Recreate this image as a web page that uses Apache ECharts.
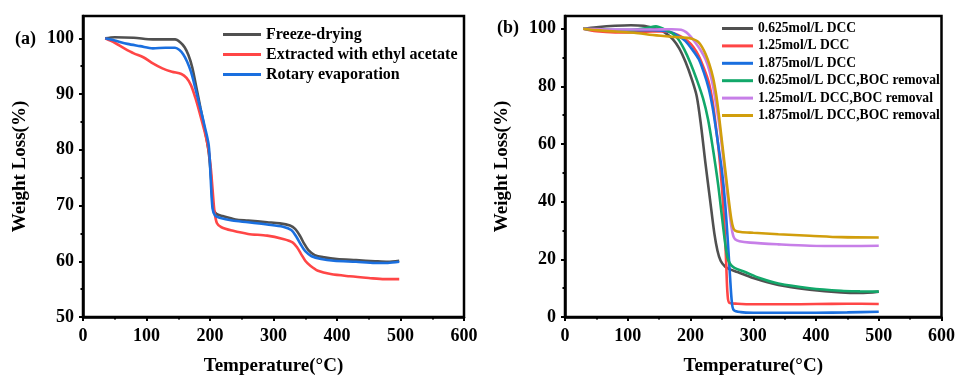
<!DOCTYPE html>
<html>
<head>
<meta charset="utf-8">
<script src="https://cdn.jsdelivr.net/npm/echarts@6/dist/echarts.min.js"></script>
<style>html,body{margin:0;padding:0;background:#fff}#c{width:958px;height:381px}</style>
</head>
<body>
<div id="c"></div>
<script>
// ---------- ticks ----------
const yTicksA = [50, 60, 70, 80, 90, 100];
const yTicksB = [0, 20, 40, 60, 80, 100];

// ---------- Panel (a) ----------
const namesA = ['Freeze-drying', 'Extracted with ethyl acetate', 'Rotary evaporation'];
const fdT = [35, 50, 80, 110, 130, 145, 153, 160, 166, 172, 178, 185, 192, 198, 202, 205, 210, 220, 240, 260, 290, 310, 326, 334, 342, 348, 355, 365, 380, 400, 430, 460, 480, 498];
const fdW = [100, 100.2, 100.1, 99.8, 99.8, 99.8, 99.3, 98.4, 97, 94.8, 91.5, 87.5, 83.5, 79.5, 74.5, 69.5, 68.5, 68.1, 67.5, 67.3, 67, 66.8, 66.4, 65.8, 64.5, 63.2, 62, 61.1, 60.7, 60.4, 60.2, 60.0, 59.9, 60.1];
const eaT = [35, 50, 65, 80, 95, 110, 125, 140, 155, 163, 170, 177, 184, 191, 197, 201, 204, 207, 211, 218, 235, 260, 290, 315, 330, 337, 344, 350, 358, 370, 390, 420, 450, 475, 498];
const eaW = [100, 99.2, 98.2, 97.3, 96.6, 95.5, 94.6, 94.0, 93.6, 92.9, 91.6, 89.3, 86.5, 83.5, 80.5, 77, 73, 69, 66.8, 66.1, 65.5, 64.9, 64.6, 64, 63.4, 62.5, 61.2, 60.1, 59.2, 58.3, 57.7, 57.3, 57.0, 56.8, 56.8];
const reT = [35, 50, 70, 90, 110, 130, 145, 152, 158, 164, 170, 177, 184, 191, 198, 201, 204, 208, 215, 235, 260, 290, 315, 328, 336, 343, 350, 360, 375, 395, 430, 460, 480, 498];
const reW = [100, 99.6, 99, 98.6, 98.2, 98.3, 98.3, 97.9, 97.1, 95.8, 94, 91, 87.8, 84.5, 80.8, 75, 69.5, 68.2, 67.8, 67.3, 67, 66.6, 66.2, 65.6, 64.4, 63, 61.8, 60.9, 60.4, 60.1, 59.9, 59.7, 59.7, 59.9];

// ---------- Panel (b) ----------
const namesB = ['0.625mol/L DCC', '1.25mol/L DCC', '1.875mol/L DCC', '0.625mol/L DCC,BOC removal', '1.25mol/L DCC,BOC removal', '1.875mol/L DCC,BOC removal'];
const d1T = [29, 50, 80, 105, 125, 140, 152, 162, 172, 182, 192, 202, 210, 217, 224, 231, 238, 243, 248, 255, 262, 275, 300, 340, 390, 440, 470, 500];
const d1W = [100, 100.5, 101, 101.2, 101, 100.3, 99.5, 98.2, 96.3, 93.2, 88.5, 82.5, 76.5, 66, 53, 41, 29, 23, 19.5, 17.5, 16.6, 15.6, 13.5, 11.1, 9.5, 8.5, 8.3, 8.8];
const d2T = [29, 50, 80, 110, 140, 160, 180, 195, 205, 213, 221, 229, 235, 240, 245, 249, 252, 255, 257, 259, 262, 275, 300, 350, 400, 450, 500];
const d2W = [100, 99.1, 98.7, 98.8, 99.0, 99.0, 97.8, 95.8, 93.5, 90.6, 86.5, 81.5, 75, 67, 57.7, 48, 39, 28, 18, 8, 4.9, 4.6, 4.4, 4.4, 4.5, 4.6, 4.5];
const d3T = [29, 60, 100, 140, 160, 172, 182, 192, 202, 213, 221, 229, 235, 240, 245, 250, 255, 259, 263, 266, 269, 280, 300, 350, 400, 450, 500];
const d3W = [100, 99.6, 99.5, 99.5, 99.2, 98.5, 97.3, 95.7, 93, 89.5, 85, 79.3, 73, 66, 58.5, 50.9, 40, 28, 14, 5, 2.4, 1.7, 1.5, 1.5, 1.5, 1.6, 1.8];
const b1T = [29, 60, 100, 130, 145, 160, 170, 180, 190, 200, 210, 220, 228, 236, 244, 250, 255, 259, 263, 270, 285, 310, 340, 390, 440, 470, 500];
const b1W = [100, 99.6, 99.5, 100.2, 100.8, 99.6, 98.5, 96.5, 92.8, 88, 82.3, 75.8, 68.5, 58, 46, 35, 26, 20.5, 18.5, 17, 15.8, 13.5, 11.6, 10, 9.1, 8.9, 8.8];
const b2T = [29, 60, 100, 140, 170, 185, 193, 200, 208, 216, 224, 230, 236, 241, 246, 251, 256, 261, 265, 268, 271, 278, 295, 340, 390, 450, 500];
const b2W = [100, 99.8, 99.7, 99.7, 99.8, 99.6, 98.8, 97.3, 95.1, 92.6, 89.4, 85.5, 80, 73.5, 66.5, 57.5, 48, 38.5, 31.5, 28.2, 27, 26.3, 25.8, 25.2, 24.7, 24.6, 24.7];
const b3T = [29, 50, 80, 110, 140, 170, 195, 205, 212, 218, 224, 230, 236, 241, 245, 249, 253, 257, 261, 265, 268, 271, 280, 300, 340, 390, 440, 500];
const b3W = [100, 99.5, 99, 98.6, 97.8, 97.2, 96.8, 96.3, 95.5, 93.8, 91.2, 87.7, 83, 77, 70.5, 63, 55.5, 48, 40.5, 34, 31, 30, 29.5, 29.2, 28.7, 28.2, 27.7, 27.6];

const colorsA = ['#505050', '#ff4646', '#1a6fdf'];
const colorsB = ['#505050', '#ff4646', '#1a6fdf', '#12a86a', '#c77fe8', '#d19e0c'];

const zip = (t, w) => t.map((v, i) => [v, w[i]]);
const FONT = 'Liberation Serif';

function xAxisFor(g) {
  return {
    type: 'value', gridIndex: g, min: 0, max: 600, interval: 100,
    name: 'Temperature(\u00B0C)', nameLocation: 'middle', nameGap: 40,
    nameTextStyle: { fontFamily: FONT, fontWeight: 'bold', fontSize: 19, color: '#000' },
    axisLine: { show: true, lineStyle: { color: '#000', width: 2.5 } },
    axisTick: { show: true, inside: false, length: 4, lineStyle: { color: '#000', width: 2 } },
    minorTick: { show: true, splitNumber: 2, length: 2.5, lineStyle: { color: '#000', width: 2 } },
    axisLabel: { fontFamily: FONT, fontWeight: 'bold', fontSize: 18, color: '#000', margin: 10 },
    splitLine: { show: false }
  };
}
function yAxisMajor(g, min, max, ticks) {
  return {
    type: 'value', gridIndex: g, min: min, max: max, position: 'left',
    name: 'Weight Loss(%)', nameLocation: 'middle', nameGap: 53,
    nameTextStyle: { fontFamily: FONT, fontWeight: 'bold', fontSize: 19, color: '#000' },
    axisLine: { show: true, lineStyle: { color: '#000', width: 2.5 } },
    axisTick: { show: true, inside: false, length: 4, lineStyle: { color: '#000', width: 2 }, customValues: ticks },
    axisLabel: { fontFamily: FONT, fontWeight: 'bold', fontSize: 18, color: '#000', margin: 9, customValues: ticks },
    splitLine: { show: false }
  };
}
function yAxisMinor(g, min, max, ticks) {
  const minor = ticks.slice(0, -1).map((v, i) => (v + ticks[i + 1]) / 2);
  return {
    type: 'value', gridIndex: g, min: min, max: max, position: 'left', offset: 0,
    axisLine: { show: false },
    axisTick: { show: true, inside: false, length: 2.5, lineStyle: { color: '#000', width: 2 }, customValues: minor },
    axisLabel: { show: false },
    splitLine: { show: false }
  };
}

const series = [];
[[fdT, fdW], [eaT, eaW], [reT, reW]].forEach((p, i) => {
  series.push({ type: 'line', name: namesA[i], xAxisIndex: 0, yAxisIndex: 0, data: zip(p[0], p[1]),
    showSymbol: false, smooth: 0.3, color: colorsA[i],
    lineStyle: { width: 2.6, color: colorsA[i] } });
});
[[d1T, d1W], [d2T, d2W], [d3T, d3W], [b1T, b1W], [b2T, b2W], [b3T, b3W]].forEach((p, i) => {
  series.push({ type: 'line', name: namesB[i], xAxisIndex: 1, yAxisIndex: 2, data: zip(p[0], p[1]),
    showSymbol: false, smooth: 0.3, color: colorsB[i],
    lineStyle: { width: 2.6, color: colorsB[i] } });
});

const chart = echarts.init(document.getElementById('c'), null, { renderer: 'canvas' });
chart.setOption({
  animation: false,
  backgroundColor: '#fff',
  grid: [
    { left: 83, top: 16, width: 381, height: 307, show: true, borderColor: '#000', borderWidth: 2.5, backgroundColor: 'transparent' },
    { left: 565, top: 16, width: 381, height: 307, show: true, borderColor: '#000', borderWidth: 2.5, backgroundColor: 'transparent' }
  ],
  xAxis: [xAxisFor(0), xAxisFor(1)],
  yAxis: [yAxisMajor(0, 50, 104, yTicksA), yAxisMinor(0, 50, 104, yTicksA),
          yAxisMajor(1, 0, 104.4, yTicksB), yAxisMinor(1, 0, 104.4, yTicksB)],
  legend: [
    { data: namesA, orient: 'vertical', left: 223, top: 26, padding: 0, icon: 'rect', itemWidth: 38, itemHeight: 3, itemGap: 3,
      textStyle: { fontFamily: FONT, fontWeight: 'bold', fontSize: 16, color: '#000', lineHeight: 17 }, selectedMode: false },
    { data: namesB, orient: 'vertical', left: 722, top: 21, padding: 0, icon: 'rect', itemWidth: 31, itemHeight: 3, itemGap: 2.4,
      textStyle: { fontFamily: FONT, fontWeight: 'bold', fontSize: 13.6, color: '#000', lineHeight: 15 }, selectedMode: false }
  ],
  graphic: [
    { type: 'text', left: 15, top: 30, style: { text: '(a)', font: 'bold 18px "Liberation Serif"', fill: '#000' } },
    { type: 'text', left: 497, top: 19, style: { text: '(b)', font: 'bold 18px "Liberation Serif"', fill: '#000' } }
  ],
  series: series
});
</script>
</body>
</html>
